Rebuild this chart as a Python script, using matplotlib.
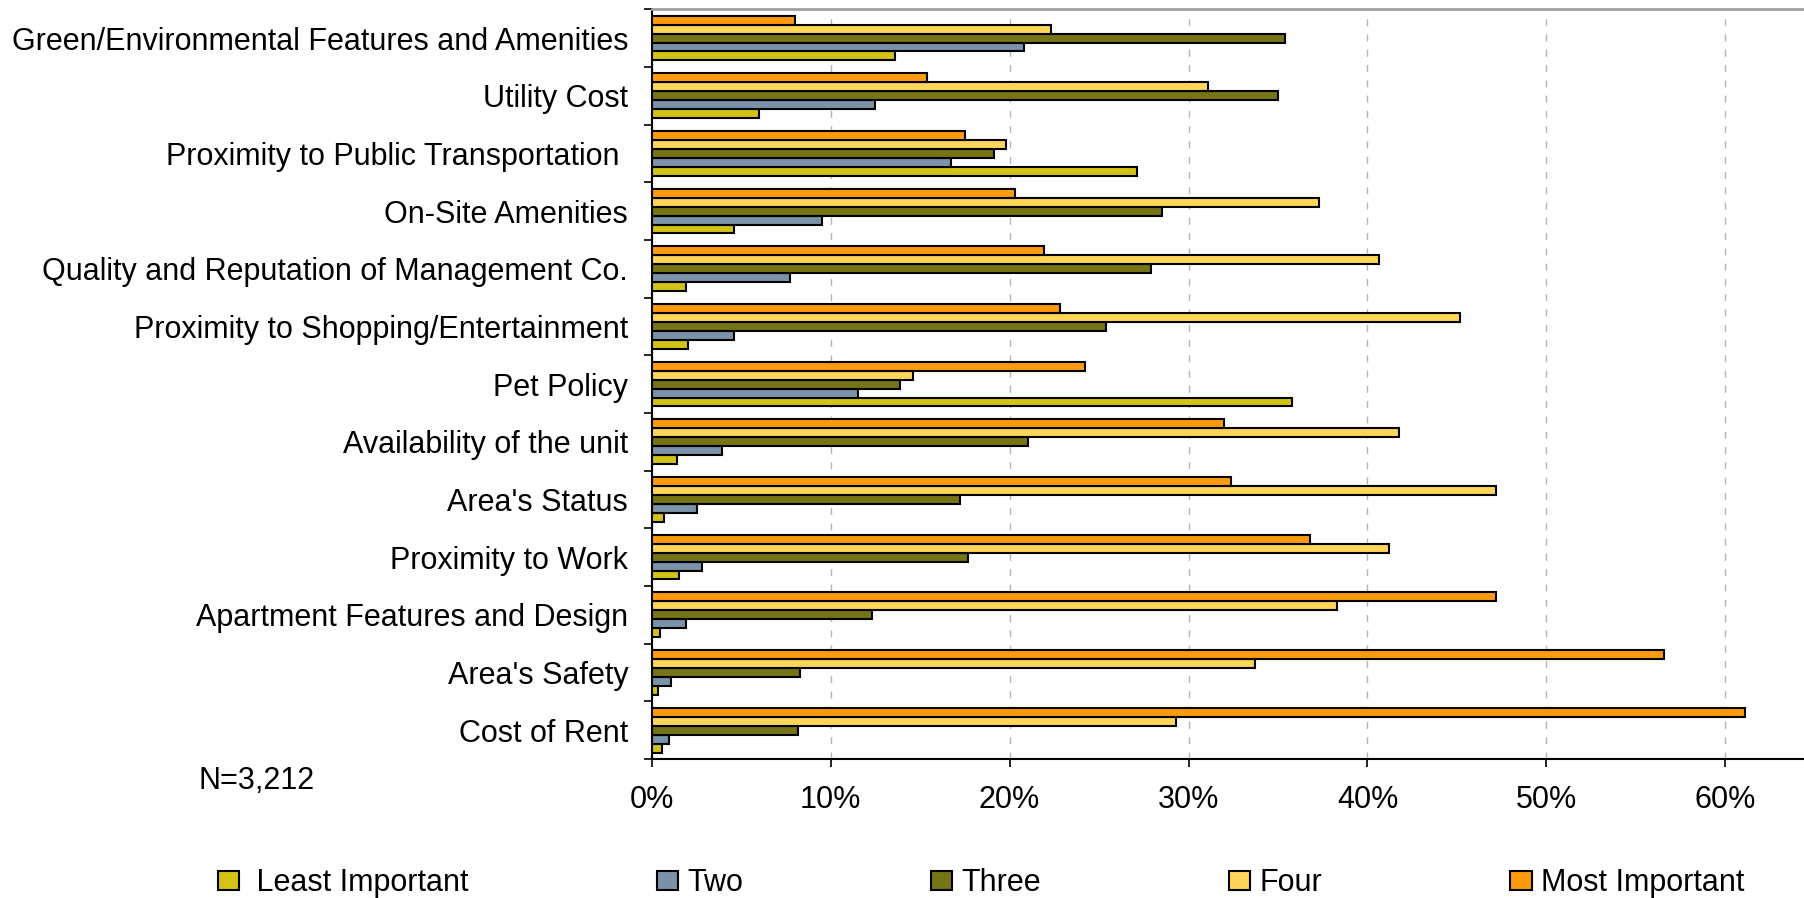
import numpy as np
import matplotlib
matplotlib.use("Agg")
import matplotlib.pyplot as plt
from matplotlib.ticker import PercentFormatter, FixedLocator

plt.rcParams['font.family'] = ['Liberation Sans', 'DejaVu Sans']

# rent decision factors, top row first
factors = [
    "Green/Environmental Features and Amenities",
    "Utility Cost",
    "Proximity to Public Transportation ",
    "On-Site Amenities",
    "Quality and Reputation of Management Co.",
    "Proximity to Shopping/Entertainment",
    "Pet Policy",
    "Availability of the unit",
    "Area's Status",
    "Proximity to Work",
    "Apartment Features and Design",
    "Area's Safety",
    "Cost of Rent",
]

# share of respondents (%) giving each importance rating
least = [13.6, 6.0, 27.1, 4.6, 1.9, 2.0, 35.8, 1.4, 0.7, 1.5, 0.45, 0.33, 0.58]
two = [20.8, 12.5, 16.7, 9.5, 7.7, 4.6, 11.5, 3.9, 2.5, 2.8, 1.9, 1.1, 0.95]
three = [35.4, 35.0, 19.1, 28.5, 27.9, 25.4, 13.9, 21.0, 17.2, 17.7, 12.3, 8.3, 8.2]
four = [22.3, 31.1, 19.8, 37.3, 40.65, 45.2, 14.6, 41.75, 47.2, 41.2, 38.3, 33.7, 29.3]
most = [8.0, 15.4, 17.5, 20.3, 21.9, 22.8, 24.2, 32.0, 32.4, 36.8, 47.2, 56.6, 61.1]

series = [
    (" Least Important", least, "#D3C317"),
    ("Two", two, "#7A93A8"),
    ("Three", three, "#767415"),
    ("Four", four, "#FFD55A"),
    ("Most Important", most, "#FF9A0F"),
]
sample_note = "N=3,212"

FS = 22

fig = plt.figure(figsize=(18.04, 8.98), dpi=100)
ax = fig.add_axes([0.3613, 0.1548, 0.6387, 0.8349])

y = np.arange(len(factors))
h = 0.155
# least important sits lowest in each group, most important on top
offsets = [2 * h, h, 0, -h, -2 * h]
handles = []
for (name, vals, col), off in zip(series, offsets):
    b = ax.barh(y + off, np.array(vals) / 100, height=h, color=col,
                edgecolor="black", linewidth=1.5, label=name, zorder=3)
    handles.append(b)

ax.set_ylim(len(factors) - 0.5, -0.5)
ax.set_xlim(0, 0.644)

# category separators as major ticks, names as minor ticks
ax.yaxis.set_major_locator(FixedLocator(np.arange(len(factors) + 1) - 0.5))
ax.yaxis.set_minor_locator(FixedLocator(y))
ax.set_yticklabels([], minor=False)
ax.set_yticklabels(factors, minor=True, fontsize=FS)
ax.tick_params(axis="y", which="major", direction="out", length=6, width=1.2)
ax.tick_params(axis="y", which="minor", length=0, pad=17)

ax.set_xticks(np.arange(0, 0.61, 0.1))
ax.xaxis.set_major_formatter(PercentFormatter(1.0, decimals=0))
ax.tick_params(axis="x", direction="out", length=6, width=1.2, pad=13, labelsize=FS)

ax.grid(axis="x", color="#b4b4b4", linestyle=(0, (5, 6)), linewidth=1, zorder=0)
ax.set_axisbelow(True)

ax.spines["right"].set_visible(False)
ax.spines["top"].set_color("#a0a0a0")
ax.spines["top"].set_linewidth(2)
ax.spines["left"].set_linewidth(1.5)
ax.spines["bottom"].set_linewidth(1.5)

fig.text(257 / 1804, 1 - 781 / 898, sample_note, ha="center", va="center", fontsize=FS)

fig.legend(handles=handles, loc="center", bbox_to_anchor=(0.5437, 0.0165), ncol=5,
           frameon=False, fontsize=FS, handlelength=0.7, handleheight=0.55,
           handletextpad=0.3, columnspacing=6.15, borderaxespad=0, borderpad=0)

fig.savefig("out.png", dpi=100)
